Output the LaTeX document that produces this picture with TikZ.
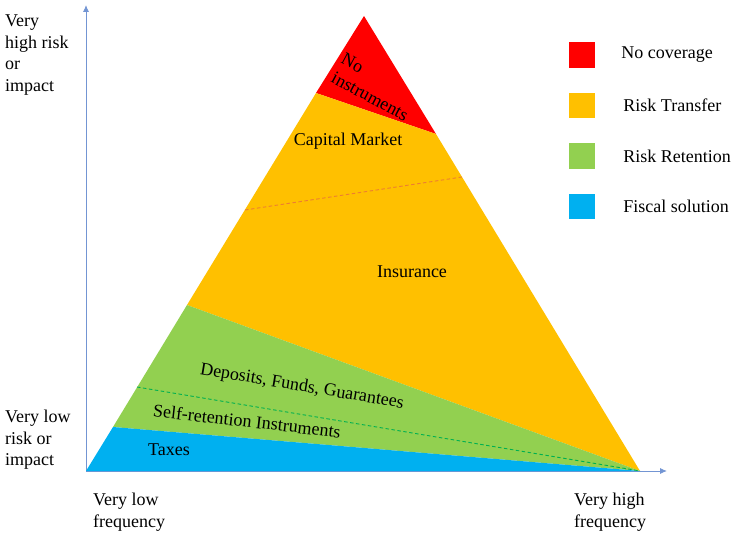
\documentclass[tikz,border=0pt]{standalone}
\usepackage{fontspec}
\setmainfont{Liberation Serif}
\usetikzlibrary{positioning,arrows.meta}

\definecolor{nocover}{HTML}{FF0000}
\definecolor{transfer}{HTML}{FFC000}
\definecolor{retention}{HTML}{92D050}
\definecolor{fiscal}{HTML}{00B0F0}
\definecolor{axisblue}{HTML}{4472C4}
\definecolor{darkorange}{HTML}{ED7D31}
\definecolor{darkgreen}{HTML}{00B050}

\begin{document}
\begin{tikzpicture}
  [
    x=1pt, y=-1pt,
    every node/.style={font=\fontsize{18}{21.5}\selectfont, inner sep=0pt},
    lbl/.style={align=left},
    key/.style={minimum width=26pt, minimum height=25.5pt},
    node distance=50.5pt,
    axis/.style={-{Latex[length=7pt,width=6pt]}, draw=axisblue!75, line width=0.9pt},
    split/.style={dash pattern=on 3.5pt off 2.5pt, line width=0.9pt},
  ]
  \useasboundingbox (0,0) rectangle (731,534);

  % corners of the pyramid and the axis ends
  \coordinate (O) at (86,471);
  \coordinate (top) at (364,16);
  \coordinate (R) at (640,471);
  \coordinate (yend) at (86,5);
  \coordinate (xend) at (667,471);

  % where the bands meet the sides
  \coordinate (nl) at (316,93);
  \coordinate (nr) at (436,134);
  \coordinate (cl) at (245,210);
  \coordinate (cr) at (462,177);
  \coordinate (tl) at (187,305);
  \coordinate (sl) at (137,387);
  \coordinate (fl) at (113,427);

  \draw [axis] (O) -- (yend);
  \draw [axis] (O) -- (xend);

  \fill [nocover] (top) -- (nr) -- (nl) -- cycle;
  \fill [transfer] (nl) -- (nr) -- (R) -- (tl) -- cycle;
  \fill [retention] (tl) -- (R) -- (fl) -- cycle;
  \fill [fiscal] (fl) -- (R) -- (O) -- cycle;

  \draw [split, darkorange] (cl) -- (cr);
  \draw [split, darkgreen] (sl) -- (R);

  \node (noins) [lbl, rotate=-28] at (375,87) {No\\instruments};
  \node (capm) at (348,141) {Capital Market};
  \node (ins) at (412,272) {Insurance};
  \node (dep) [rotate=-9.5] at (302,387) {Deposits, Funds, Guarantees};
  \node (self) [rotate=-6.5] at (247,421) {Self-retention Instruments};
  \node (tax) at (169,450) {Taxes};

  \node (yhi) [lbl, anchor=north west] at (5,15) {Very\\high risk\\or\\impact};
  \node (ylo) [lbl, anchor=north west] at (5,410) {Very low\\risk or\\impact};
  \node (xlo) [lbl, anchor=north west] at (93,493) {Very low\\frequency};
  \node (xhi) [lbl, anchor=north west] at (574,493) {Very high\\frequency};

  % legend
  \node (k1) [key, fill=nocover] at (582,55) {};
  \node (k2) [key, fill=transfer, below of=k1] {};
  \node (k3) [key, fill=retention, below of=k2] {};
  \node (k4) [key, fill=fiscal, below of=k3] {};
  \node (t1) [right=26pt of k1] {No coverage};
  \node (t2) [right=28pt of k2] {Risk Transfer};
  \node (t3) [right=28pt of k3] {Risk Retention};
  \node (t4) [right=28pt of k4] {Fiscal solution};
\end{tikzpicture}
\end{document}
